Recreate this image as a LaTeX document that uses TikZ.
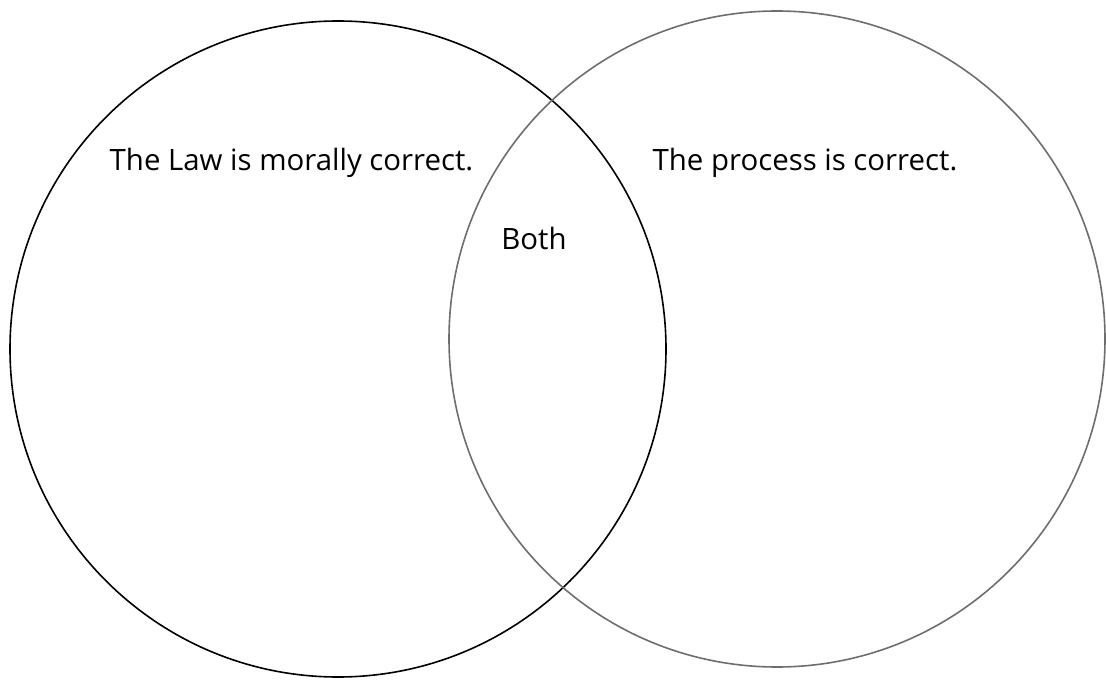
\documentclass[tikz,border=0pt]{standalone}
\usepackage{fontspec}
\setmainfont{Open Sans}
\usepackage{xcolor}
\definecolor{setgrey}{RGB}{110,110,110}

\begin{document}
\begin{tikzpicture}[x=1bp,y=-1bp,
    setline/.style={line width=1.6bp},
    setlabel/.style={anchor=base,inner sep=0pt,font=\fontsize{29.5}{34}\selectfont}]
        \useasboundingbox (0,0) rectangle (1106,680);
        % Left set - black
        \draw[setline,black] (338,349) circle[radius=328];
        % Right set - grey
        \draw[setline,setgrey] (777,339) circle[radius=328];
        % Set labels
        \node[setlabel] (law) at (291.5,171) {The Law is morally correct.};
        \node[setlabel] (process) at (805,171) {The process is correct.};
        \node[setlabel] (both) at (534,249) {Both};
      \end{tikzpicture}
\end{document}
